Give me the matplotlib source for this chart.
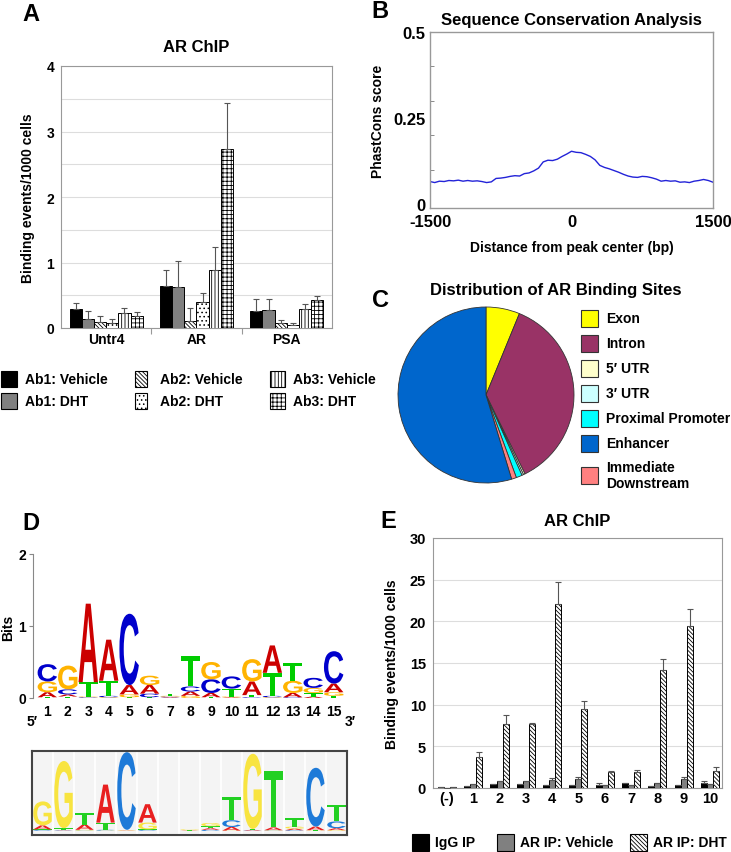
import numpy as np
import matplotlib
matplotlib.use('Agg')
import matplotlib.pyplot as plt
from matplotlib.patches import Rectangle, PathPatch
from matplotlib.textpath import TextPath
from matplotlib.font_manager import FontProperties
from matplotlib.transforms import Affine2D

plt.rcParams['font.family'] = ['Liberation Sans', 'DejaVu Sans']
plt.rcParams['font.weight'] = 'bold'
plt.rcParams['axes.labelweight'] = 'bold'
plt.rcParams['axes.titleweight'] = 'bold'
plt.rcParams['hatch.linewidth'] = 0.6

W, H = 731, 853

# ---------------- panel A data ----------------
a_genes = ['Untr4', 'AR', 'PSA']
a_names = ['Ab1: Vehicle', 'Ab1: DHT', 'Ab2: Vehicle', 'Ab2: DHT', 'Ab3: Vehicle', 'Ab3: DHT']
a_ab1_veh = [0.29, 0.64, 0.26]
a_ab1_dht = [0.14, 0.63, 0.27]
a_ab2_veh = [0.09, 0.11, 0.08]
a_ab2_dht = [0.07, 0.40, 0.04]
a_ab3_veh = [0.23, 0.89, 0.29]
a_ab3_dht = [0.18, 2.74, 0.43]
a_ab1_veh_err = [0.09, 0.24, 0.19]
a_ab1_dht_err = [0.12, 0.40, 0.17]
a_ab2_veh_err = [0.10, 0.19, 0.04]
a_ab2_dht_err = [0.07, 0.14, 0.03]
a_ab3_veh_err = [0.07, 0.34, 0.07]
a_ab3_dht_err = [0.07, 0.70, 0.06]

# ---------------- panel B data ----------------
b_dist = list(range(-1500, 1501, 50))
b_score = [0.065, 0.062, 0.066, 0.065, 0.068, 0.067, 0.069, 0.066, 0.068, 0.066,
           0.067, 0.065, 0.062, 0.064, 0.074, 0.075, 0.077, 0.080, 0.082, 0.081,
           0.088, 0.090, 0.096, 0.104, 0.122, 0.127, 0.126, 0.130, 0.138, 0.145,
           0.153, 0.150, 0.149, 0.144, 0.138, 0.128, 0.112, 0.106, 0.102, 0.097,
           0.092, 0.086, 0.081, 0.078, 0.077, 0.080, 0.079, 0.076, 0.072, 0.066,
           0.068, 0.066, 0.067, 0.063, 0.064, 0.062, 0.066, 0.068, 0.071, 0.068,
           0.063]
b_xticks = [-1500, 0, 1500]
b_xticklabels = ['-1500', '0', '1500']

# ---------------- panel C data ----------------
c_labels = ['Exon', 'Intron', '5\u2032 UTR', '3\u2032 UTR', 'Proximal Promoter',
            'Enhancer', 'Immediate\nDownstream']
c_values = [6.2, 36.5, 0.3, 0.3, 1.1, 54.7, 0.9]
c_colors = ['#FFFF00', '#993366', '#FFFFCC', '#CCFFFF', '#00FFFF', '#0066CC', '#FF8080']
c_pie_order = [0, 1, 2, 3, 4, 6, 5]

# ---------------- panel D data ----------------
d_pos = list(range(1, 16))
d_A = [0.07, 0.03, 1.09, 0.57, 0.13, 0.12, 0.01, 0.06, 0.06, 0.01, 0.19, 0.38, 0.06, 0.02, 0.12]
d_C = [0.24, 0.07, 0.01, 0.02, 0.99, 0.05, 0.01, 0.07, 0.19, 0.17, 0.01, 0.02, 0.01, 0.14, 0.45]
d_G = [0.15, 0.33, 0.01, 0.01, 0.04, 0.13, 0.01, 0.03, 0.24, 0.01, 0.31, 0.01, 0.17, 0.07, 0.05]
d_T = [0.01, 0.02, 0.20, 0.21, 0.01, 0.01, 0.03, 0.42, 0.01, 0.11, 0.03, 0.32, 0.24, 0.05, 0.03]

d2_A = [0.10, 0.01, 0.13, 0.95, 0.01, 0.46, 0.00, 0.01, 0.04, 0.09, 0.02, 0.07, 0.04, 0.09, 0.05]
d2_C = [0.02, 0.01, 0.01, 0.02, 1.94, 0.02, 0.00, 0.00, 0.03, 0.17, 0.01, 0.01, 0.02, 1.47, 0.17]
d2_G = [0.60, 1.68, 0.02, 0.01, 0.01, 0.17, 0.00, 0.02, 0.08, 0.01, 1.88, 0.01, 0.05, 0.01, 0.02]
d2_T = [0.02, 0.05, 0.30, 0.18, 0.01, 0.02, 0.00, 0.01, 0.05, 0.59, 0.02, 1.40, 0.21, 0.01, 0.42]

# ---------------- panel E data ----------------
e_sites = ['(-)', '1', '2', '3', '4', '5', '6', '7', '8', '9', '10']
e_igg = [0.15, 0.3, 0.5, 0.5, 0.35, 0.4, 0.35, 0.6, 0.25, 0.4, 0.6]
e_igg_err = [0, 0, 0, 0, 0, 0, 0.25, 0, 0, 0, 0.3]
e_veh = [0.05, 0.5, 0.8, 0.8, 1.0, 1.1, 0.4, 0.35, 0.55, 1.1, 0.5]
e_veh_err = [0, 0, 0, 0, 0.2, 0.2, 0, 0, 0, 0.2, 0]
e_dht = [0.1, 3.7, 7.7, 7.7, 22.1, 9.5, 1.9, 1.9, 14.2, 19.4, 2.0]
e_dht_err = [0, 0.6, 1.1, 0.1, 2.6, 0.9, 0.2, 0.3, 1.3, 2.1, 0.5]
e_names = ['IgG IP', 'AR IP: Vehicle', 'AR IP: DHT']


def rect(x0, y0, x1, y1):
    # pixel box (top-left origin) -> figure fraction
    return [x0 / W, 1 - y1 / H, (x1 - x0) / W, (y1 - y0) / H]


fig = plt.figure(figsize=(W / 100, H / 100), dpi=100)
GRID = '#DDDDDD'
FRAME = '#999999'

# ================= A =================
axA = fig.add_axes(rect(61, 67, 332, 329))
a_vals = [a_ab1_veh, a_ab1_dht, a_ab2_veh, a_ab2_dht, a_ab3_veh, a_ab3_dht]
a_errs = [a_ab1_veh_err, a_ab1_dht_err, a_ab2_veh_err, a_ab2_dht_err, a_ab3_veh_err, a_ab3_dht_err]
a_fc = ['black', '#808080', 'white', 'white', 'white', 'white']
a_hatch = [None, None, '\\' * 8, '....', '|' * 5, '+' * 4]
bw = 0.135
x = np.arange(len(a_genes))
for k in range(6):
    axA.bar(x + (k - 2.5) * bw, a_vals[k], bw, color=a_fc[k], edgecolor='black',
            linewidth=0.7, hatch=a_hatch[k], zorder=3,
            yerr=[np.zeros(3), a_errs[k]], error_kw=dict(ecolor='#555555', elinewidth=0.8,
                                                         capsize=2, capthick=0.8))
axA.set_xlim(-0.5, 2.5)
axA.set_ylim(0, 4)
axA.set_yticks([0, 1, 2, 3, 4])
axA.set_yticks(np.arange(0.5, 4, 0.5), minor=True)
axA.yaxis.grid(True, which='both', color=GRID, lw=0.8, zorder=0)
axA.tick_params(axis='y', which='both', length=0, labelsize=10, pad=5)
axA.set_xticks([0.5, 1.5])
axA.set_xticklabels([])
axA.set_xticks(x, minor=True)
axA.set_xticklabels(a_genes, minor=True)
axA.tick_params(axis='x', which='major', length=4, color=FRAME)
axA.tick_params(axis='x', which='minor', length=0, labelsize=10, pad=3)
for s in axA.spines.values():
    s.set_color(FRAME)
axA.set_ylabel('Binding events/1000 cells', fontsize=10, labelpad=8)
axA.set_title('AR ChIP', fontsize=12, pad=11)

# ================= B =================
axB = fig.add_axes(rect(430, 33, 713, 209))
axB.plot(b_dist, b_score, color='#2323D8', lw=1.0)
axB.set_xlim(-1500, 1500)
axB.set_ylim(-0.012, 0.5)
axB.set_yticks([0, 0.25, 0.5])
axB.set_yticklabels(['0', '0.25', '0.5'])
axB.set_yticks([0.1, 0.2, 0.3, 0.4], minor=True)
axB.tick_params(axis='y', which='major', length=0, labelsize=12, pad=3)
axB.tick_params(axis='y', which='minor', length=3, direction='in', color='#777777')
axB.set_xticks(b_xticks)
axB.set_xticklabels(b_xticklabels)
axB.tick_params(axis='x', length=0, labelsize=12, pad=4)
for s in axB.spines.values():
    s.set_color(FRAME)
    s.set_linewidth(1.0)
axB.set_xlabel('Distance from peak center (bp)', fontsize=10, labelpad=8)
axB.set_ylabel('PhastCons score', fontsize=10, labelpad=6)
axB.set_title('Sequence Conservation Analysis', fontsize=12, pad=6)

# ================= C =================
axC = fig.add_axes(rect(398, 308, 574, 484))
axC.pie([c_values[i] for i in c_pie_order], colors=[c_colors[i] for i in c_pie_order],
        startangle=90, counterclock=False,
        wedgeprops=dict(edgecolor='#333333', linewidth=0.6))
axC.set_xlim(-1.0, 1.0)
axC.set_ylim(-1.0, 1.0)

# ================= D =================
fp_logo = FontProperties(family='Liberation Sans', weight='bold')


def draw_letter(ax, ch, xc, y0, w, h, color):
    tp = TextPath((0, 0), ch, size=1, prop=fp_logo)
    ext = tp.get_extents()
    tr = Affine2D().translate(-ext.x0, -ext.y0).scale(w / ext.width, h / ext.height) \
        .translate(xc - w / 2, y0)
    ax.add_patch(PathPatch(tr.transform_path(tp), fc=color, ec='none', lw=0))


def draw_logo(ax, cols, colors, width):
    for i, p in enumerate(d_pos):
        stack = sorted([(cols[b][i], b) for b in 'ACGT'])
        y = 0.0
        for h, b in stack:
            if h > 0.004:
                draw_letter(ax, b, p, y, width, h, colors[b])
            y += h


axD = fig.add_axes(rect(33, 555, 348, 699))
draw_logo(axD, {'A': d_A, 'C': d_C, 'G': d_G, 'T': d_T},
          {'A': '#CC0000', 'C': '#0000CC', 'G': '#FFB300', 'T': '#00CC00'}, 0.95)
axD.set_xlim(0.3, 15.7)
axD.set_ylim(0, 2)
for side in ['top', 'right', 'bottom']:
    axD.spines[side].set_visible(False)
axD.spines['left'].set_color('#888888')
axD.set_yticks([0, 1, 2])
axD.tick_params(axis='y', length=3, color='#888888', labelsize=10, pad=2)
axD.set_xticks(d_pos)
axD.tick_params(axis='x', length=0, labelsize=10, pad=4)

axD2 = fig.add_axes(rect(32, 752, 347, 836))
for p in d_pos:
    axD2.axvspan(p - 0.5, p + 0.5, color='#F4F4F4', lw=0, zorder=0)
    axD2.axvline(p + 0.5, color='white', lw=1.2, zorder=0.5)
draw_logo(axD2, {'A': d2_A, 'C': d2_C, 'G': d2_G, 'T': d2_T},
          {'A': '#E82020', 'C': '#1E7AD8', 'G': '#F8E440', 'T': '#22D022'}, 0.88)
axD2.set_xlim(0.5, 15.5)
axD2.set_ylim(-0.1, 2.0)
axD2.set_xticks([])
axD2.set_yticks([])
for s in axD2.spines.values():
    s.set_color('#444444')
    s.set_linewidth(1.5)

# ================= E =================
axE = fig.add_axes(rect(433, 539, 722, 789))
xe = np.arange(len(e_sites))
bw = 0.23
e_vals = [e_igg, e_veh, e_dht]
e_errs = [e_igg_err, e_veh_err, e_dht_err]
e_fc = ['black', '#808080', 'white']
e_hatch = [None, None, '\\' * 8]
for k in range(3):
    axE.bar(xe + (k - 1) * bw, e_vals[k], bw, color=e_fc[k], edgecolor='black',
            linewidth=0.7, hatch=e_hatch[k], zorder=3,
            yerr=[np.zeros(len(xe)), e_errs[k]],
            error_kw=dict(ecolor='#555555', elinewidth=0.8, capsize=2, capthick=0.8))
axE.set_xlim(-0.53, 10.46)
axE.set_ylim(0, 30)
axE.set_yticks(range(0, 31, 5))
axE.yaxis.grid(True, color=GRID, lw=0.8, zorder=0)
axE.tick_params(axis='y', length=0, labelsize=10.5, pad=5)
axE.set_xticks(xe)
axE.set_xticklabels(e_sites)
axE.tick_params(axis='x', length=0, labelsize=10.5, pad=2)
for s in axE.spines.values():
    s.set_color(FRAME)
axE.set_ylabel('Binding events/1000 cells', fontsize=10, labelpad=8)
axE.set_title('AR ChIP', fontsize=12, pad=9)

# ================= overlay (labels & legends, pixel coords) =================
ov = fig.add_axes([0, 0, 1, 1], zorder=10)
ov.set_xlim(0, W)
ov.set_ylim(H, 0)
ov.axis('off')
ov.patch.set_alpha(0)

for lab, (px, py) in zip('ABCDE', [(22, 14), (371, 11), (372, 300), (22, 523), (380, 522)]):
    ov.text(px, py, lab, fontsize=17, fontweight='bold', va='center', ha='left')

ov.text(556, 290, 'Distribution of AR Binding Sites', fontsize=12, va='center', ha='center')

# legend A
a_box_x = [1, 135, 270]
a_box_w = [16, 12, 15]
a_txt_x = [25, 160, 293]
a_rows = [380, 402]
for k in range(6):
    col, row = k // 2, k % 2
    yc = a_rows[row]
    ov.add_patch(Rectangle((a_box_x[col], yc - 8), a_box_w[col], 16, fc=a_fc[k],
                           ec='black', lw=0.8, hatch=a_hatch[k]))
    ov.text(a_txt_x[col], yc, a_names[k], fontsize=10, va='center', ha='left')

# legend C
c_rows = [319, 344, 369, 394, 419, 444, 476]
for k in range(7):
    yc = c_rows[k]
    ov.add_patch(Rectangle((581, yc - 8.5), 17, 17, fc=c_colors[k], ec='#333333', lw=0.8))
    ov.text(606, yc, c_labels[k], fontsize=10, va='center', ha='left', linespacing=1.15)

# panel D extras
ov.text(8, 628, 'Bits', fontsize=10, rotation=90, va='center', ha='center')
ov.text(32, 722, '5\u2032', fontsize=10, va='center', ha='center')
ov.text(350, 722, '3\u2032', fontsize=10, va='center', ha='center')

# legend E
e_box_x = [412, 497, 630]
e_txt_x = [435, 520, 653]
for k in range(3):
    ov.add_patch(Rectangle((e_box_x[k], 843 - 8.5), 17, 17, fc=e_fc[k], ec='black', lw=0.8,
                           hatch=e_hatch[k]))
    ov.text(e_txt_x[k], 843, e_names[k], fontsize=10, va='center', ha='left')

fig.savefig('out.png', dpi=100)
